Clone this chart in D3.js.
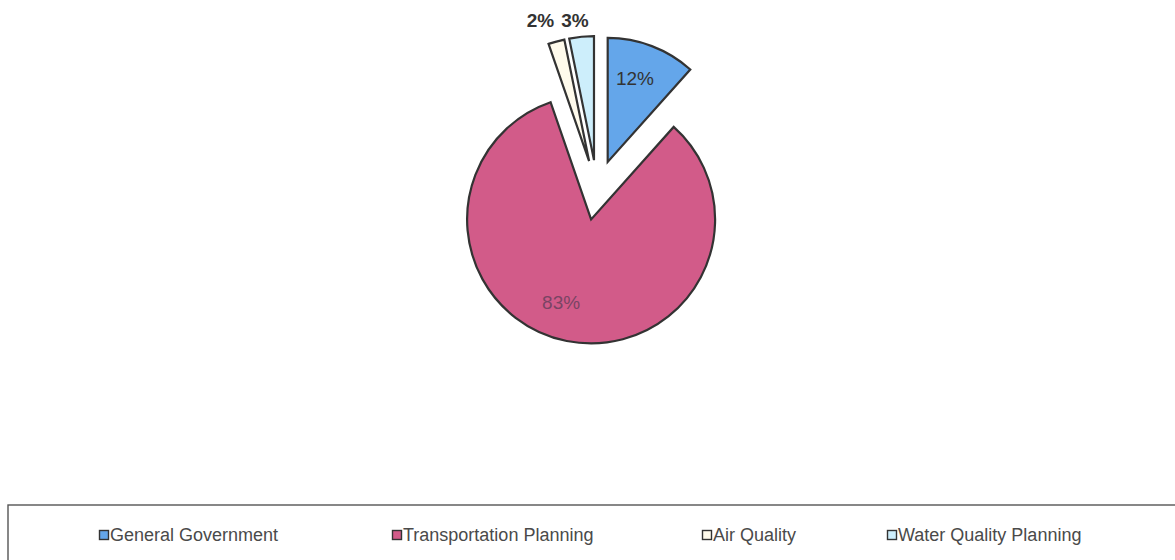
<!DOCTYPE html>
<html>
<head>
<meta charset="utf-8">
<script src="https://cdn.jsdelivr.net/npm/d3@7"></script>
<style>
  body { margin: 0; background: #fff; }
  svg { display: block; font-family: Arial, "Liberation Sans", sans-serif; }
</style>
</head>
<body>
<svg id="chart" width="1175" height="560"></svg>
<script>
// data (shares in %, labels are rounded)
var categories = ["General Government", "Transportation Planning", "Air Quality", "Water Quality Planning"];
var shares = [11.6, 83.1, 2.1, 3.2];
var colors = ["#64a6ea", "#d25b89", "#fffbec", "#cdeefb"];

var svg = d3.select("#chart");
var cx = 597, cy = 190, r = 124, explode = 30;

var pie = d3.pie().sort(null).value(function (d) { return d; });
var arcs = pie(shares);
var arc = d3.arc().innerRadius(0).outerRadius(r);

function mid(d) { return (d.startAngle + d.endAngle) / 2; }

var g = svg.append("g").attr("transform", "translate(" + cx + "," + cy + ")");

var slice = g.selectAll("g.slice")
  .data(arcs)
  .enter()
  .append("g")
  .attr("class", "slice")
  .attr("transform", function (d) {
    var a = mid(d);
    return "translate(" + Math.sin(a) * explode + "," + (-Math.cos(a) * explode) + ")";
  });

slice.append("path")
  .attr("d", arc)
  .attr("fill", function (d, i) { return colors[i]; })
  .attr("stroke", "#333")
  .attr("stroke-width", 2.2);

// label nudges (radians) so the labels sit where Excel put them
var nudge = [-0.05, 0.15, -0.065, -0.035];

function labelPos(d, i) {
  var a = mid(d) + nudge[i];
  if (d.data < 10) {
    // small slices: labels outside, on one row above the pie
    var ay = -Math.cos(mid(d)) * explode;
    var rr = (ay + cy - 20) / Math.cos(a);
    return [Math.sin(a) * rr, -Math.cos(a) * rr];
  }
  return [Math.sin(a) * r * 0.71, -Math.cos(a) * r * 0.71];
}

slice.append("text")
  .attr("text-anchor", "middle")
  .attr("dominant-baseline", "central")
  .attr("font-size", 19)
  .attr("font-weight", function (d) { return d.data < 10 ? "bold" : "normal"; })
  .attr("fill", function (d, i) { return i === 1 ? "#7a4464" : "#333"; })
  .attr("x", function (d, i) { return labelPos(d, i)[0]; })
  .attr("y", function (d, i) { return labelPos(d, i)[1]; })
  .text(function (d) { return Math.round(d.data) + "%"; });

// legend box
svg.append("rect")
  .attr("x", 8).attr("y", 505)
  .attr("width", 1180).attr("height", 70)
  .attr("fill", "#fff")
  .attr("stroke", "#555")
  .attr("stroke-width", 1.4);

var legendX = [99, 392, 702, 887];
var leg = svg.selectAll("g.leg")
  .data(categories)
  .enter()
  .append("g")
  .attr("class", "leg")
  .attr("transform", function (d, i) { return "translate(" + legendX[i] + ",535)"; });

leg.append("rect")
  .attr("x", 0.5).attr("y", -4.5)
  .attr("width", 9).attr("height", 9)
  .attr("fill", function (d, i) { return colors[i]; })
  .attr("stroke", "#333")
  .attr("stroke-width", 1.4);

leg.append("text")
  .attr("x", 11)
  .attr("y", 0)
  .attr("dominant-baseline", "central")
  .attr("font-size", 18)
  .attr("fill", "#4a4a4a")
  .text(function (d) { return d; });
</script>
</body>
</html>
